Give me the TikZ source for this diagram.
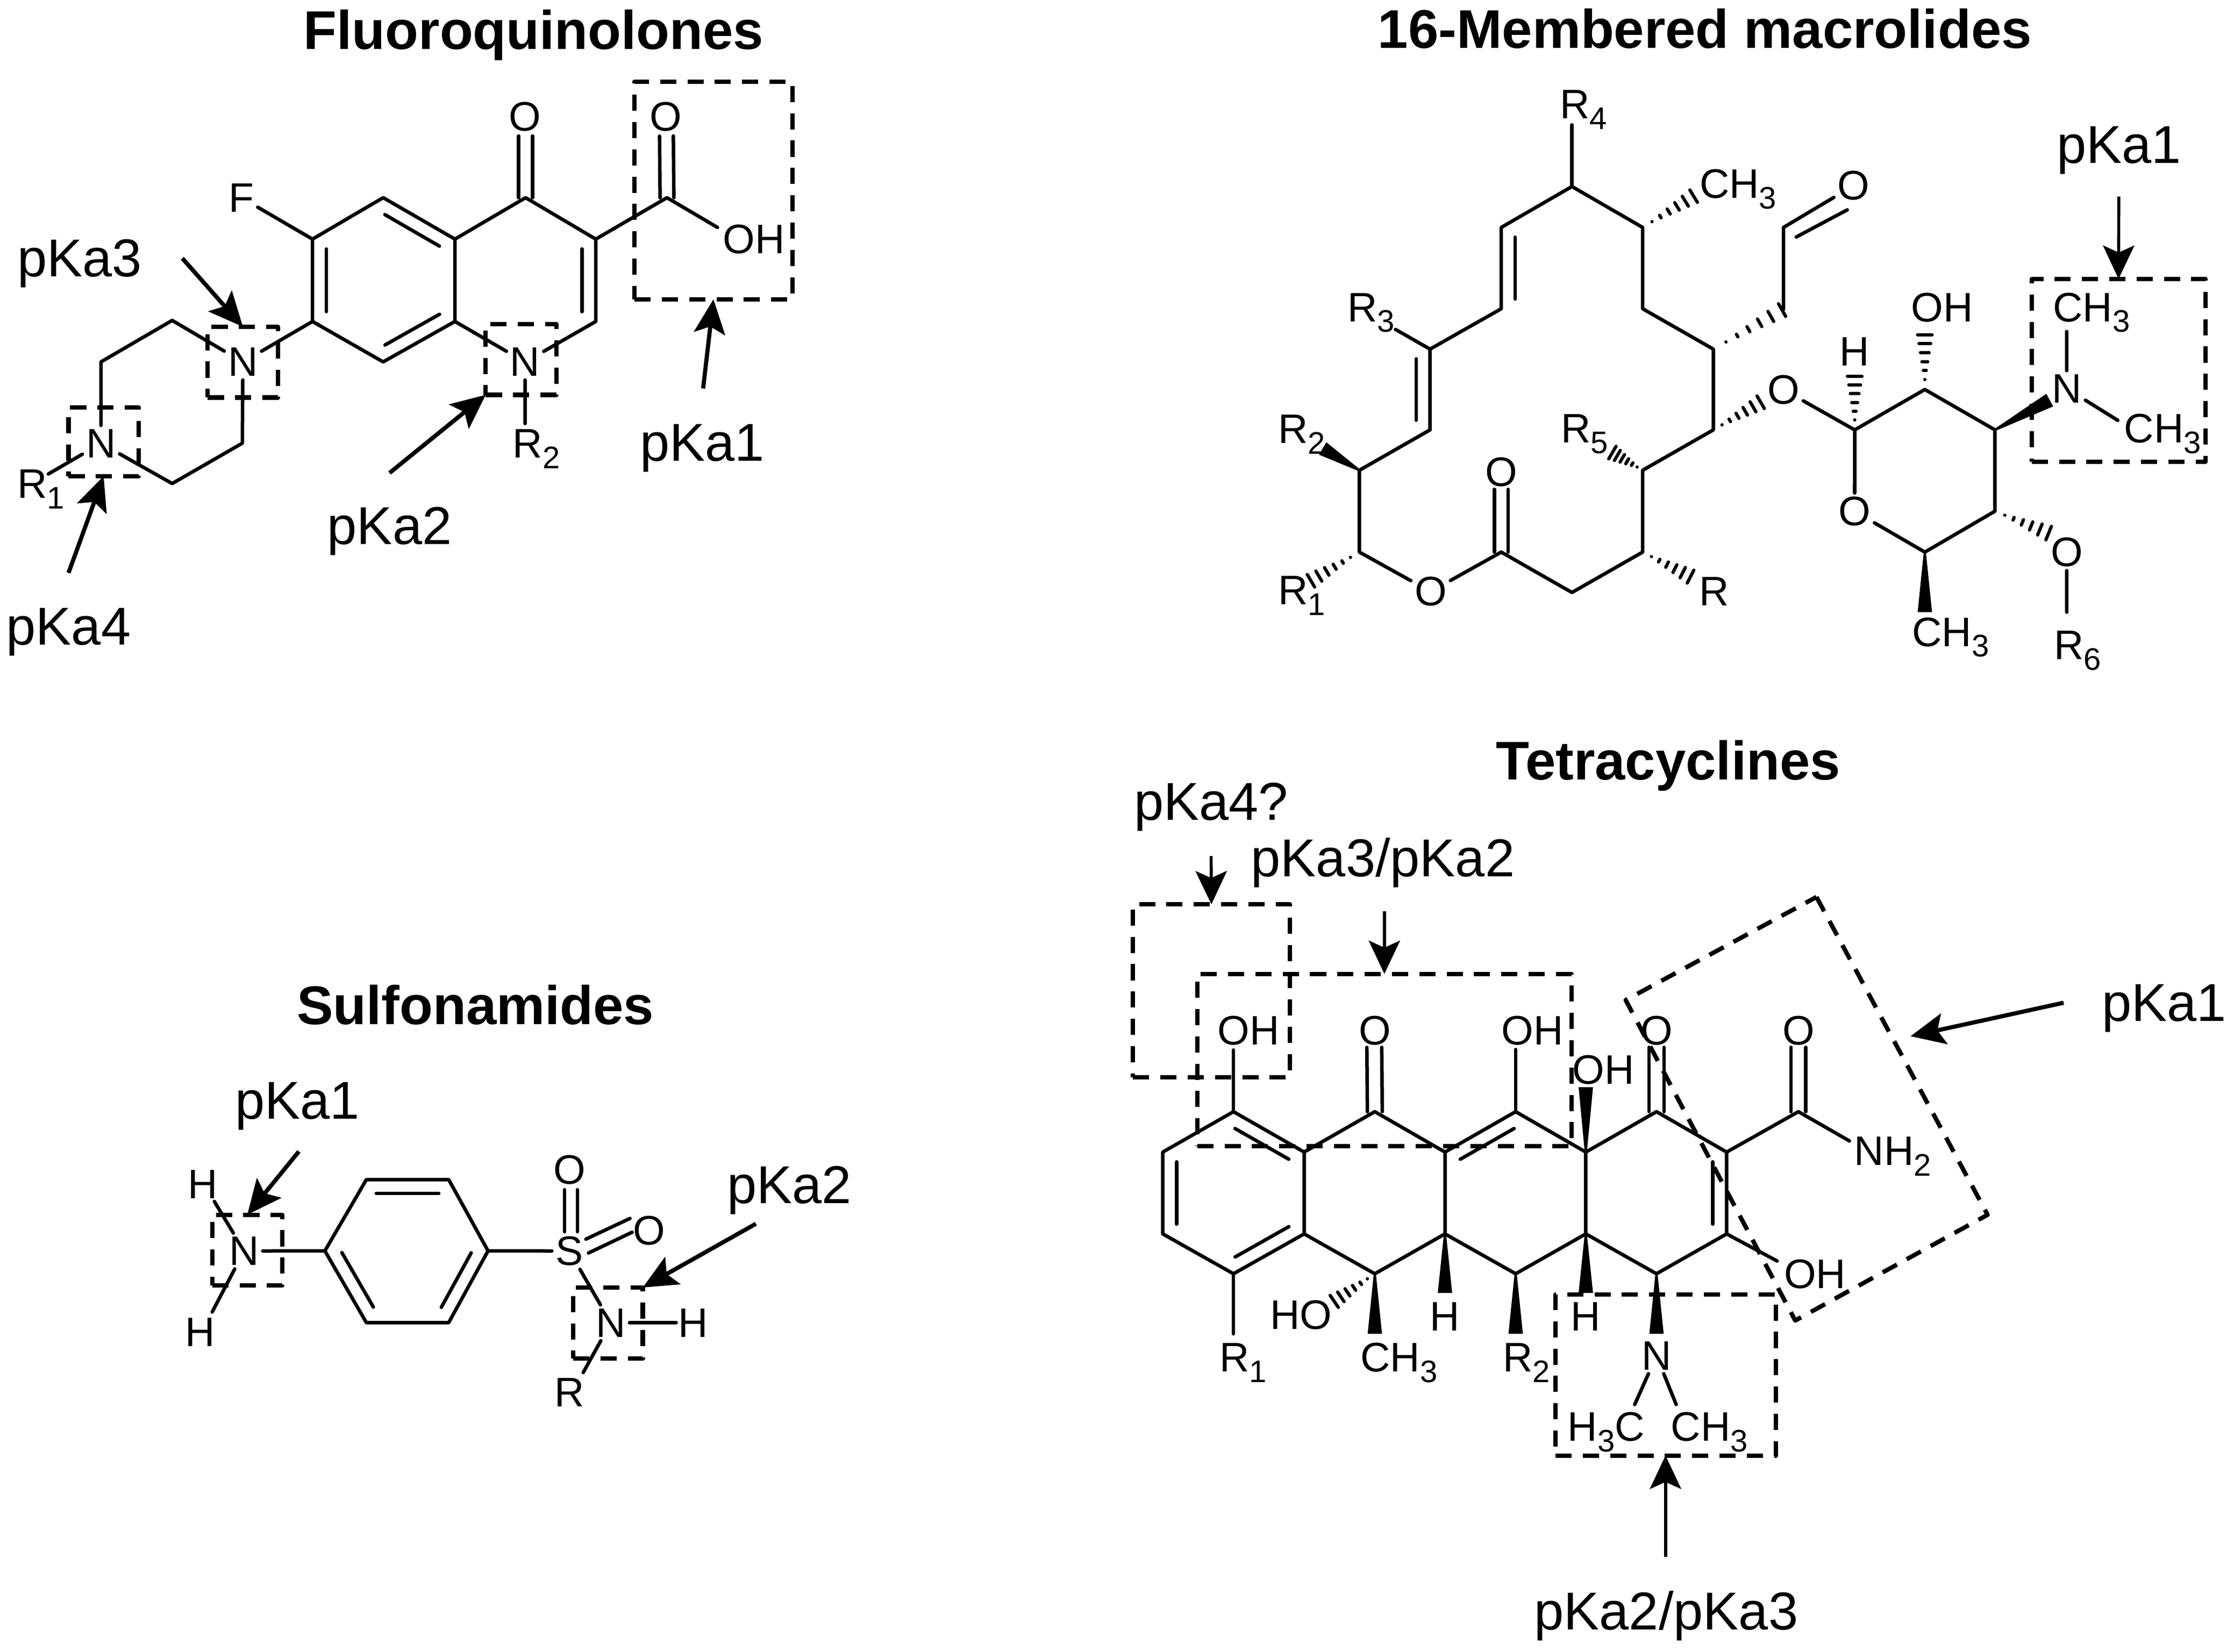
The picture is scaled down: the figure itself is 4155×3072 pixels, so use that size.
\documentclass[tikz,border=0pt]{standalone}
\usepackage{fontspec}
\setmainfont{Liberation Sans}
\usetikzlibrary{calc,arrows.meta}
\newcommand\sbs[1]{\raisebox{-0.26em}{\fontsize{16.5}{18}\selectfont #1}}
\tikzset{
  bond/.style={line width=1.85pt,line cap=round,line join=round},
  hash/.style={line width=1.7pt,line cap=round},
  atom/.style={anchor=base,inner sep=0.07cm,outer sep=0,font=\fontsize{21.8}{24}\selectfont},
  atoml/.style={anchor=base west,inner sep=0,outer sep=0,font=\fontsize{21.8}{24}\selectfont},
  lab/.style={anchor=base,inner sep=0,font=\fontsize{28.2}{30}\selectfont},
  ttl/.style={anchor=base,inner sep=0,font=\fontsize{28.8}{32}\selectfont\bfseries},
  dbox/.style={draw,line width=2.3pt,line join=round,dash pattern=on 8.55pt off 5.9pt,inner sep=0,outer sep=0},
  arr/.style={line width=2.2pt,-{Stealth[length=0.64cm,width=0.58cm,inset=0.13cm]}},
  arrt/.style={line width=1.6pt,-{Stealth[length=0.62cm,width=0.58cm,inset=0.13cm]}},
  zoomed/.style args={#1/#2}{shift={(#1,#2)},scale=0.9885,shift={(-#1,-#2)}},
}
% inner line of a double bond, on the left of a->b
\newcommand\dbl[2]{\draw[bond] ($(#1)!.12!(#2)!0.26cm!90:(#2)$) -- ($(#2)!.12!(#1)!0.26cm!-90:(#1)$);}
% two parallel lines a->b
\newcommand\twin[3]{\draw[bond] ($(#1)!#3!90:(#2)$) -- ($(#2)!#3!-90:(#1)$);
  \draw[bond] ($(#1)!#3!-90:(#2)$) -- ($(#2)!#3!90:(#1)$);}
\newcommand\wedgeb[2]{\fill ($(#1)!0.02cm!90:(#2)$) -- ($(#2)!0.135cm!-90:(#1)$) -- ($(#2)!0.135cm!90:(#1)$) -- ($(#1)!0.02cm!-90:(#2)$) -- cycle;}
\newcommand\hashb[2]{\foreach \hh in {0.18,0.34,0.50,0.66,0.82,0.98}{%
  \pgfmathsetlengthmacro\hw{(\hh-0.18)*0.17cm+0.001cm}%
  \draw[hash] ($(#1)!\hh!(#2)!\hw!90:(#2)$) -- ($(#1)!\hh!(#2)!\hw!-90:(#2)$);}}
\newcommand\boxn[5]{\node[dbox,minimum width={(#4-#2)*0.009885cm},minimum height={(#5-#3)*0.009885cm}] (#1) at ({(#2+#4)/2},{(#3+#5)/2}) {};}
\begin{document}
\begin{tikzpicture}[x=0.01cm,y=-0.01cm]
\useasboundingbox (0,0) rectangle (4155,3072);
\fill[white] (0,0) rectangle (4155,3072);

%% ---------- Fluoroquinolones ----------
\begin{scope}[zoomed=0/0]
\node[ttl] (t1) at (1004,93) {Fluoroquinolones};
\foreach \n/\x/\y in {fa1/588/450,fa2/721/372,fa3/856/450,fa4/856/605,fa5/721/681,fa6/588/605,
  fb1/989/372,fb2/1121/450,fb3/1121/605,fc/1255/372,fp1/324/603,fp2/190/681,fp3/324/910,fp4/456/834,
  foe/989/256,fce/1254/256,fR1e/91/892,fR2e/988/797,fOHe/1350/428,fFe/485/390}
  {\coordinate (\n) at (\x,\y);}
\node[atom] (fF) at (454,399) {F};
\node[atom] (fO1) at (988,246) {O};
\node[atom] (fO2) at (1253,246) {O};
\node[atoml] (fOH) at (1360,477) {OH};
\node[atom] (fN2) at (988,708) {N};
\node[atom] (fN3) at (457,708) {N};
\node[atom] (fN4) at (190,861) {N};
\node[atoml] (fR1) at (33,937) {R\sbs{1}};
\node[atoml] (fR2) at (965,861) {R\sbs{2}};
\draw[bond] (fa1)--(fa2)--(fa3)--(fa4)--(fa5)--(fa6)--cycle;
\draw[bond] (fa3)--(fb1)--(fb2)--(fb3)--(fN2)--(fa4);
\dbl{fa1}{fa6}\dbl{fa5}{fa4}\dbl{fa3}{fa2}\dbl{fb3}{fb2}
\twin{fb1}{foe}{0.13cm}
\twin{fc}{fce}{0.13cm}
\draw[bond] (fb2)--(fc)--(fOHe);
\draw[bond] (fa1)--(fFe);
\draw[bond] (fa6)--(fN3)--(fp1)--(fp2)--(fN4)--(fp3)--(fp4)--(fN3);
\draw[bond] (fN4)--(fR1e);
\draw[bond] (fN2)--(fR2e);
\boxn{fbxA}{1194}{154}{1491}{563}
\boxn{fbxB}{914}{610}{1047}{743}
\boxn{fbxC}{391}{615}{523}{748}
\boxn{fbxD}{129}{767}{261}{896}
\node[lab] (fl1) at (1321,867) {pKa1};
\node[lab] (fl2) at (733,1024) {pKa2};
\node[lab] (fl3) at (150,520) {pKa3};
\node[lab] (fl4) at (129,1213) {pKa4};
\coordinate (fs1) at (1323,731);
\coordinate (fs2) at (733,890);
\coordinate (fs3) at (343,486);
\coordinate (fs4) at (129,1078);
\draw[arr] (fs1)--(fbxA.south);
\draw[arr] (fs2)--(fbxB.south west);
\draw[arr] (fs3)--(fbxC.north);
\draw[arr] (fs4)--(fbxD.south);
\end{scope}

%% ---------- 16-Membered macrolides ----------
\begin{scope}[zoomed=2300/0]
\node[ttl] (t2) at (3181,91) {16-Membered macrolides};
\foreach \n/\x/\y in {m1/2931/351,m2/2798/428,m3/2798/581,m4/2664/657,m5/2664/809,m6/2531/885,m7/2531/1039,
  m8/2798/1039,m9/2931/1115,m10/3064/1039,m11/3064/885,m12/3197/809,m13/3197/657,m14/3064/581,m15/3064/428,
  m16/3329/582,m17/3329/428,s1/3463/809,s2/3595/733,s3/3727/809,s4/3727/962,s5/3595/1039,
  mR4e/2931/235,mR3e/2599/620,mR2e/2462/844,mR1e/2438/1094,mR5e/3006/851,mRe/3156/1086,mCe/3162/368,
  moe/2798/921,mgl/3288/756,mHe/3463/706,mOHe/3595/628,mNw/3830/753,
  mNu/3862/624,mNl/3958/791,mOh/3830/1004,mR6e/3862/1152,mCb/3595/1152,mi1/3353/446,mi2/3449/395}
  {\coordinate (\n) at (\x,\y);}
\node[atoml] (mR4) at (2908,223) {R\sbs{4}};
\node[atoml] (mR3) at (2509,605) {R\sbs{3}};
\node[atoml] (mR2) at (2378,834) {R\sbs{2}};
\node[atoml] (mR1) at (2378,1138) {R\sbs{1}};
\node[atoml] (mR5) at (2910,833) {R\sbs{5}};
\node[atom] (mR) at (3198,1140) {R};
\node[atoml] (mC1) at (3171,373) {CH\sbs{3}};
\node[atom] (mOa) at (3461,376) {O};
\node[atom] (mOe) at (2665,1140) {O};
\node[atom] (mOc) at (2798,915) {O};
\node[atom] (mOg) at (3329,760) {O};
\node[atom] (mOr) at (3463,989) {O};
\node[atom] (mH) at (3463,688) {H};
\node[atoml] (mOH) at (3569,605) {OH};
\node[atom] (mN) at (3862,758) {N};
\node[atoml] (mC2) at (3836,605) {CH\sbs{3}};
\node[atoml] (mC3) at (3970,833) {CH\sbs{3}};
\node[atom] (mO6) at (3862,1066) {O};
\node[atoml] (mR6) at (3838,1241) {R\sbs{6}};
\node[atoml] (mC4) at (3571,1216) {CH\sbs{3}};
\draw[bond] (m5)--(m6)--(m7)--(mOe)--(m8)--(m9)--(m10)--(m11)--(m12)--(m13)--(m14)--(m15)--(m1)--(m2)--(m3)--(m4)--(m5);
\dbl{m2}{m3}\dbl{m5}{m4}
\draw[bond] (m1)--(mR4e);
\draw[bond] (m4)--(mR3e);
\twin{m8}{moe}{0.13cm}
\wedgeb{m6}{mR2e}
\hashb{m7}{mR1e}
\hashb{m11}{mR5e}
\hashb{m10}{mRe}
\hashb{m15}{mCe}
\hashb{m13}{m16}
\draw[bond] (m16)--(m17)--(mOa);
\draw[bond] (mi1)--(mi2);
\hashb{m12}{mgl}
\draw[bond] (mOg)--(s1)--(s2)--(s3)--(s4)--(s5)--(mOr)--(s1);
\hashb{s1}{mHe}
\hashb{s2}{mOHe}
\wedgeb{s3}{mNw}
\draw[bond] (mN)--(mNu);
\draw[bond] (mN)--(mNl);
\hashb{s4}{mOh}
\draw[bond] (mO6)--(mR6e);
\wedgeb{s5}{mCb}
\boxn{mbx}{3796}{525}{4123}{869}
\node[lab] (ml1) at (3960,307) {pKa1};
\coordinate (ms1) at (3960,370);
\draw[arrt] (ms1)--(mbx.north);
\end{scope}

%% ---------- Sulfonamides ----------
\begin{scope}[zoomed=200/1800]
\node[ttl] (t3) at (892,1907) {Sulfonamides};
\foreach \n/\x/\y in {r1/687/2199,r2/842/2199,r3/916/2333,r4/842/2468,r5/687/2468,r6/609/2333,
  sa/401/2240,sb/397/2448,sc/1060/2218,sd/1060/2297,se/1084/2218,sf/1084/2297,
  sg/1100/2311,sh/1183/2272,si/1105/2337,sj/1187/2298,sk/1270/2468,sl/1095/2562}
  {\coordinate (\n) at (\x,\y);}
\node[atom] (sN1) at (457,2360) {N};
\node[atom] (sH1) at (379,2234) {H};
\node[atom] (sH2) at (374,2513) {H};
\node[atom] (sS) at (1069,2360) {S};
\node[atom] (sO1) at (1069,2207) {O};
\node[atom] (sO2) at (1219,2321) {O};
\node[atom] (sN2) at (1147,2495) {N};
\node[atom] (sH3) at (1302,2495) {H};
\node[atom] (sR) at (1069,2626) {R};
\draw[bond] (r1)--(r2)--(r3)--(r4)--(r5)--(r6)--cycle;
\dbl{r2}{r1}\dbl{r6}{r5}\dbl{r4}{r3}
\draw[bond] (sN1)--(r6);
\draw[bond] (r3)--(sS);
\draw[bond] (sN1)--(sa);
\draw[bond] (sN1)--(sb);
\draw[bond] (sc)--(sd);
\draw[bond] (se)--(sf);
\draw[bond] (sg)--(sh);
\draw[bond] (si)--(sj);
\draw[bond] (sS)--(sN2);
\draw[bond] (sN2)--(sk);
\draw[bond] (sN2)--(sl);
\boxn{sbxA}{397}{2265}{529}{2398}
\boxn{sbxB}{1076}{2402}{1207}{2535}
\node[lab] (sl1) at (557,2085) {pKa1};
\node[lab] (sl2) at (1483,2244) {pKa2};
\coordinate (ss1) at (560,2146);
\coordinate (ss2) at (1420,2282);
\draw[arr] (ss1)--(sbxA.north);
\draw[arr] (ss2)--(sbxB.north east);
\end{scope}

%% ---------- Tetracyclines ----------
\begin{scope}[zoomed=2050/1380]
\node[ttl] (t4) at (3115,1451) {Tetracyclines};
\foreach \n/\x/\y in {t1/2297/2076,t2/2164/2152,t3/2164/2306,t4/2297/2381,t5/2430/2306,t6/2430/2152,
  t7/2563/2076,t8/2695/2152,t9/2695/2306,t10/2563/2381,t11/2828/2076,t12/2960/2152,t13/2960/2306,t14/2828/2381,
  t15/3093/2076,t16/3225/2152,t17/3225/2306,t18/3093/2381,t19/3360/2076,
  te1/2297/1960,te2/2562/1955,te3/2828/1959,te4/2960/2030,te5/3093/1955,te6/3360/1955,te7/3456/2131,te8/3320/2357,
  te9/2297/2494,te10/2485/2434,te11/2563/2494,te12/2695/2417,te13/2828/2494,te14/2960/2417,te15/3093/2494,
  te16/3052/2627,te17/3130/2627,rb1/3394/1672,rb2/3716/2270,rb3/3354/2469,rb4/3035/1866}
  {\coordinate (\n) at (\x,\y);}
\node[atoml] (tOH1) at (2267,1950) {OH};
\node[atom] (tO2) at (2563,1950) {O};
\node[atoml] (tOH3) at (2801,1950) {OH};
\node[atoml] (tOH4) at (2935,2024) {OH};
\node[atom] (tO5) at (3093,1950) {O};
\node[atom] (tO6) at (3360,1950) {O};
\node[atoml] (tNH) at (3465,2177) {NH\sbs{2}};
\node[atoml] (tOH7) at (3333,2408) {OH};
\node[atoml] (tR1) at (2271,2565) {R\sbs{1}};
\node[atoml] (tHO) at (2366,2485) {HO};
\node[atoml] (tC1) at (2536,2565) {CH\sbs{3}};
\node[atom] (tH1) at (2695,2488) {H};
\node[atoml] (tR2) at (2804,2565) {R\sbs{2}};
\node[atom] (tH2) at (2960,2488) {H};
\node[atom] (tN) at (3093,2562) {N};
\node[atoml] (tC2) at (2926,2696) {H\sbs{3}C};
\node[atoml] (tC3) at (3120,2696) {CH\sbs{3}};
\draw[bond] (t1)--(t2)--(t3)--(t4)--(t5)--(t6)--cycle;
\draw[bond] (t6)--(t7)--(t8)--(t9)--(t10)--(t5);
\draw[bond] (t8)--(t11)--(t12)--(t13)--(t14)--(t9);
\draw[bond] (t12)--(t15)--(t16)--(t17)--(t18)--(t13);
\draw[bond] (t16)--(t19)--(te7);
\dbl{t2}{t3}\dbl{t4}{t5}\dbl{t6}{t1}\dbl{t11}{t8}\dbl{t17}{t16}
\draw[bond] (t1)--(te1);
\twin{t7}{te2}{0.14cm}
\draw[bond] (t11)--(te3);
\wedgeb{t12}{te4}
\twin{t15}{te5}{0.14cm}
\twin{t19}{te6}{0.14cm}
\draw[bond] (t17)--(te8);
\draw[bond] (t4)--(te9);
\hashb{t10}{te10}
\wedgeb{t10}{te11}
\wedgeb{t9}{te12}
\wedgeb{t14}{te13}
\wedgeb{t13}{te14}
\wedgeb{t18}{te15}
\draw[bond] (tN)--(te16);
\draw[bond] (tN)--(te17);
\boxn{tbxA}{2108}{1686}{2403}{2011}
\boxn{tbxB}{2229}{1817}{2933}{2141}
\boxn{tbxC}{2903}{2420}{3317}{2723}
\draw[dbox] (rb1)--(rb2)--(rb3)--(rb4)--cycle;
\node[lab] (tl4) at (2255,1527) {pKa4?};
\node[lab] (tl3) at (2578,1633) {pKa3/pKa2};
\node[lab] (tl1) at (4048,1906) {pKa1};
\node[lab] (tl2) at (3111,3051) {pKa2/pKa3};
\coordinate (ts4) at (2255,1595);
\coordinate (ts3) at (2581,1699);
\coordinate (ts1) at (3859,1871);
\coordinate (te1a) at (3571,1934);
\coordinate (ts2) at (3110,2914);
\draw[arrt] (ts4)--(tbxA.north);
\draw[arrt] (ts3)--(tbxB.north);
\draw[arr] (ts1)--(te1a);
\draw[arrt] (ts2)--(tbxC.south);
\end{scope}
\end{tikzpicture}
\end{document}
